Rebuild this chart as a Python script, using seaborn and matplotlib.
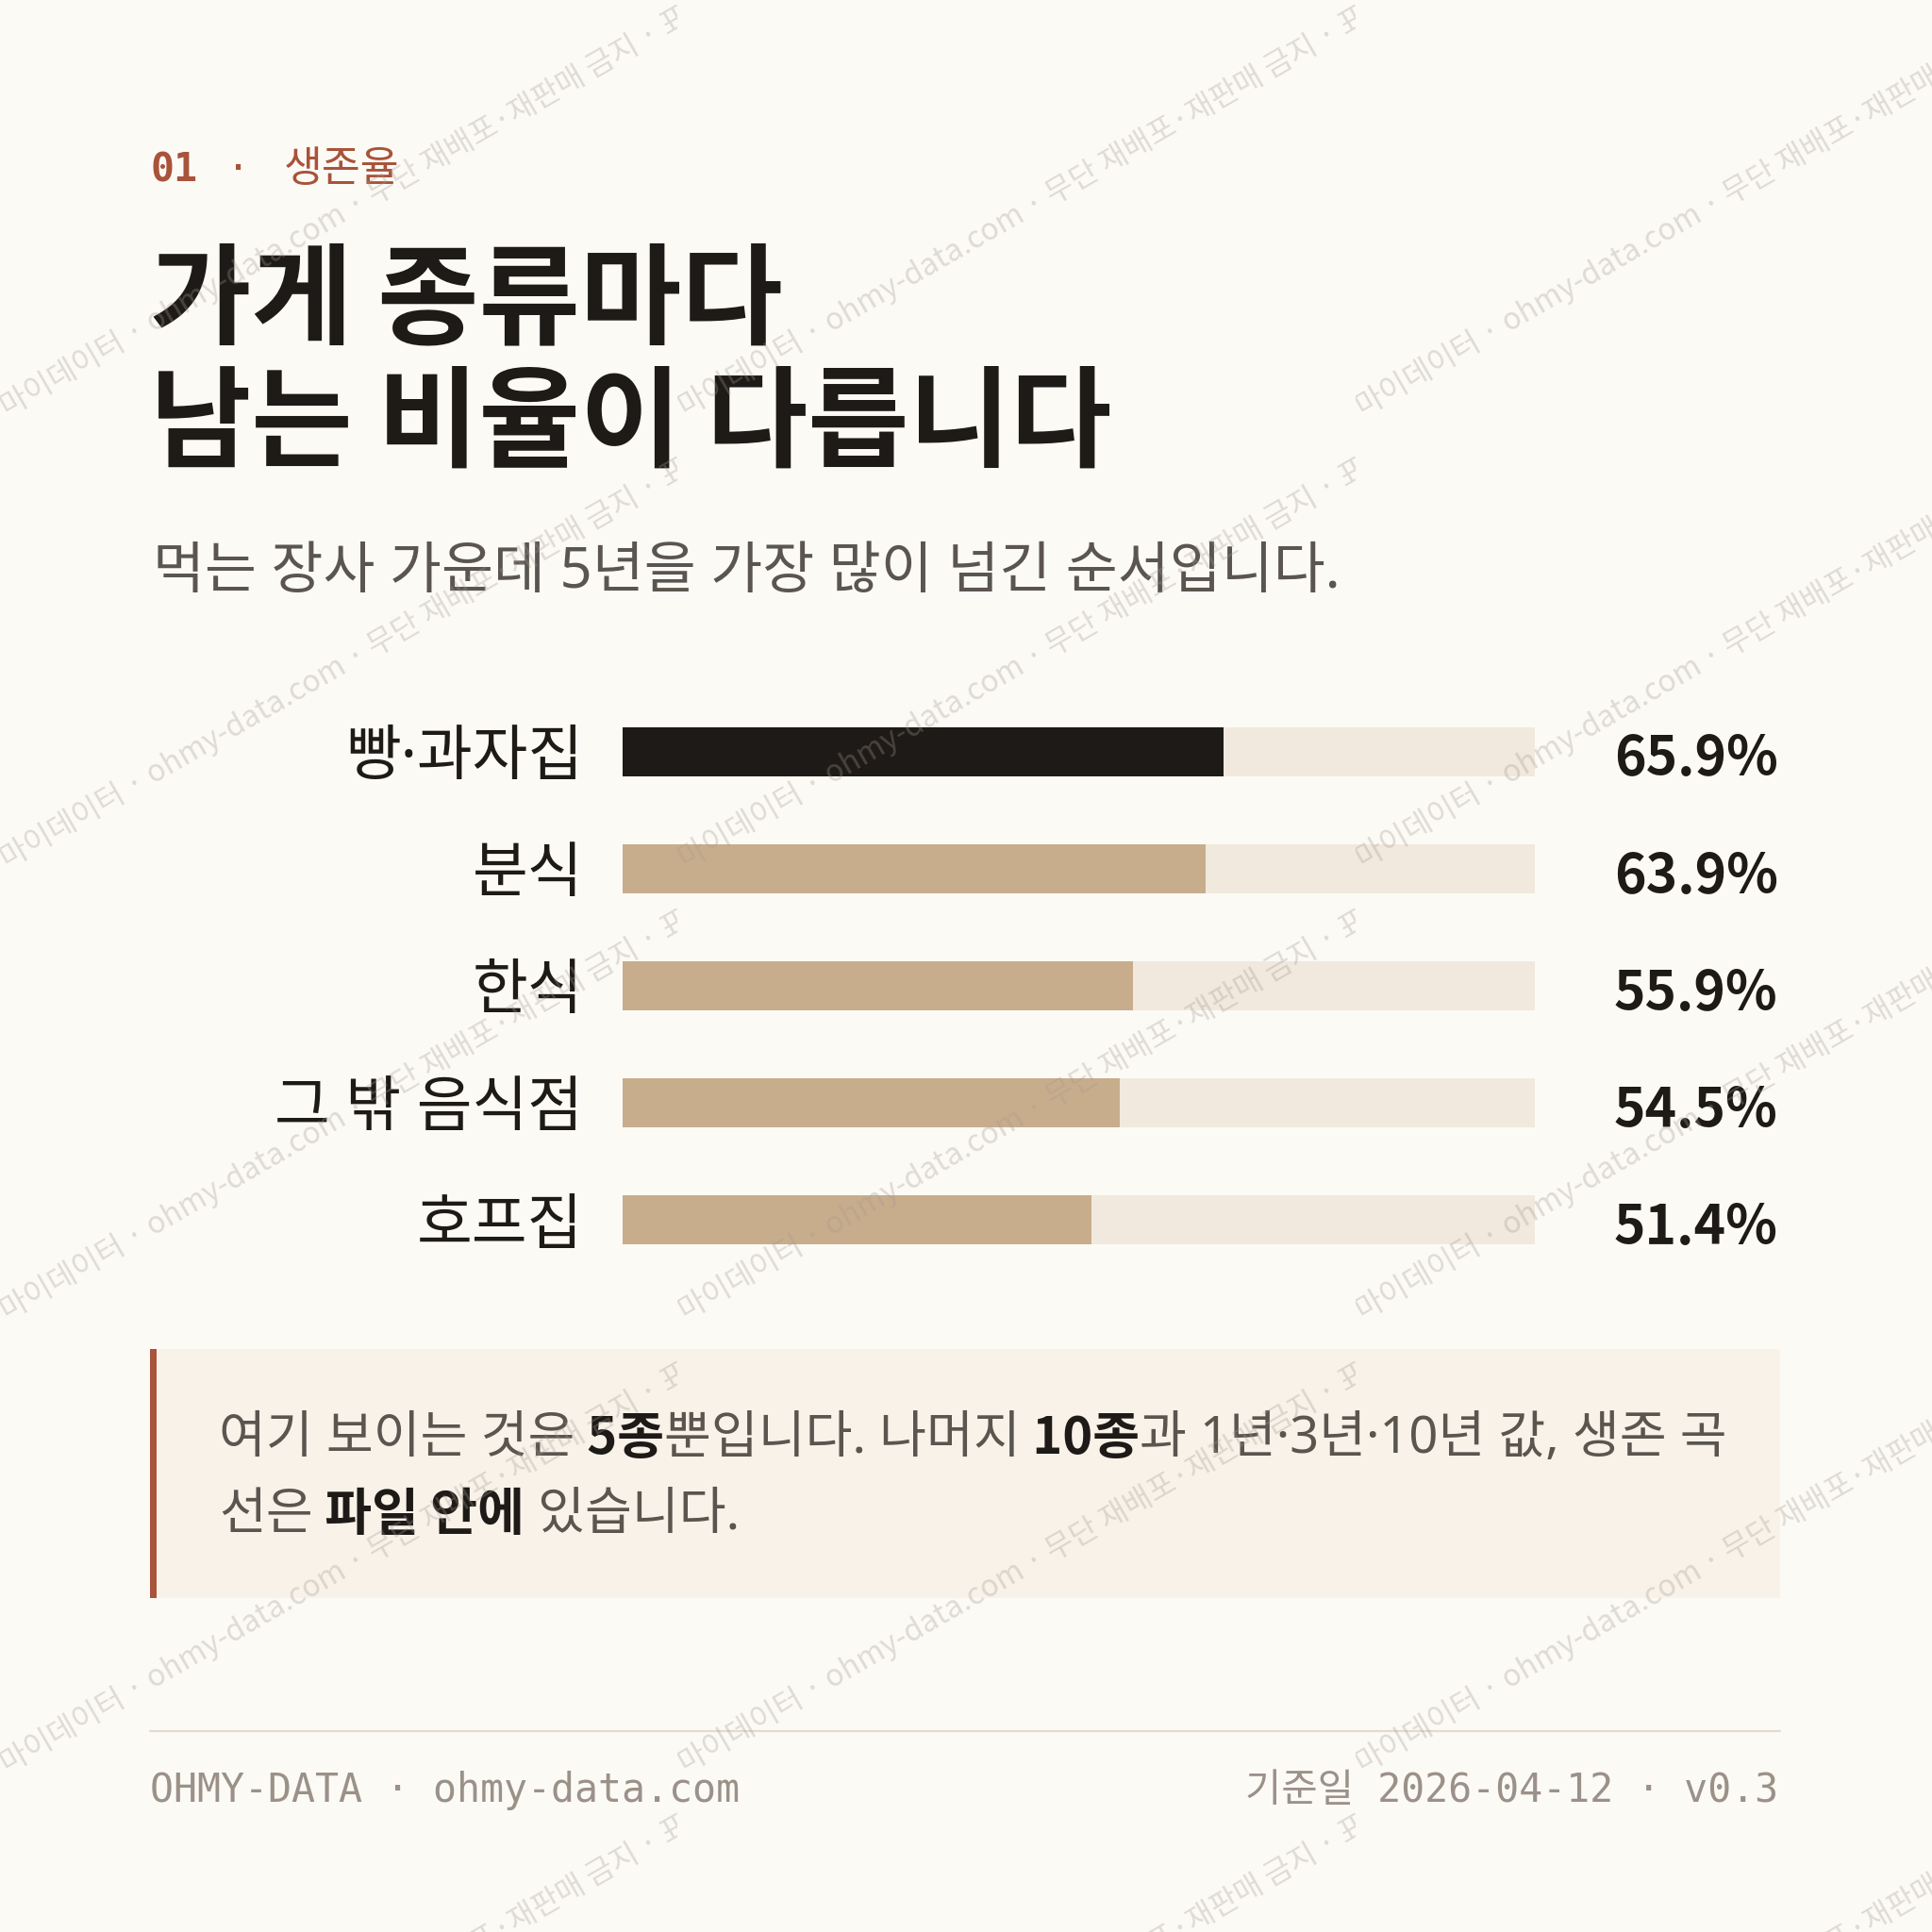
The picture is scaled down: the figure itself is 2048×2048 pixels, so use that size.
import matplotlib
matplotlib.use("Agg")
import matplotlib.pyplot as plt
import matplotlib.transforms as mtransforms
from matplotlib.patches import Rectangle
from matplotlib.lines import Line2D
import seaborn as sns
import pandas as pd

# ---------------- data ----------------
categories = ["빵·과자집", "분식", "한식", "그 밖 음식점", "호프집"]
survival_5y = [65.9, 63.9, 55.9, 54.5, 51.4]
value_labels = ["65.9%", "63.9%", "55.9%", "54.5%", "51.4%"]
scale_max = 100

eyebrow_num = "01"
eyebrow_txt = "생존율"
title_lines = ["가게 종류마다", "남는 비율이 다릅니다"]
subtitle = "먹는 장사 가운데 5년을 가장 많이 넘긴 순서입니다."
note_line1 = [("여기 보이는 것은", False), (" 5종", True), ("뿐입니다. 나머지", False),
              (" 10종", True), ("과 1년·3년·10년 값, 생존 곡", False)]
note_line2 = [("선은", False), (" 파일 안에", True), (" 있습니다.", False)]
footer_left = "OHMY-DATA · ohmy-data.com"
footer_right = "기준일 2026-04-12 · v0.3"
watermark = "마이데이터 · ohmy-data.com · 무단 재배포·재판매 금지 · 표본"

# ---------------- style ----------------
BG = "#fcfaf5"
DARK = "#1e1a17"
TAN = "#c8ad8c"
TRACK = "#f1e9dd"
RUST = "#a8533a"
GREY = "#5b554f"
FOOT = "#9b9188"
NOTE_BG = "#f8f2e9"
RULE = "#e3dbcf"

sns.set_theme(style="white")
KR = "Noto Sans CJK KR"
plt.rcParams["font.family"] = [KR, "DejaVu Sans"]
MONO = ["DejaVu Sans Mono", KR]
LATKR = ["Noto Sans", KR]

S = 1568.0
def fx(px):
    return px / S
def fy(py):
    return 1 - py / S

fig = plt.figure(figsize=(10.24, 10.24), dpi=200, facecolor=BG)

# ---------------- header ----------------
fig.text(fx(122), fy(138), eyebrow_num, family=MONO, weight="bold", size=15,
         color=RUST, ha="left", va="center")
fig.text(fx(193), fy(138), "·", family=MONO, size=15, color=RUST, ha="center", va="center")
fig.text(fx(230), fy(137), eyebrow_txt, family=[KR], size=16, color=RUST,
         ha="left", va="center")

fig.text(fx(122), fy(246), title_lines[0], size=42, weight="bold", color=DARK,
         ha="left", va="center")
fig.text(fx(122), fy(346), title_lines[1], size=42, weight="bold", color=DARK,
         ha="left", va="center")
fig.text(fx(124), fy(465), subtitle, size=21.5, family=LATKR, color=GREY,
         ha="left", va="center")

# ---------------- bars ----------------
df = pd.DataFrame({"category": categories, "value": survival_5y})
df["track"] = scale_max

ax = fig.add_axes([fx(505), fy(1037.5), fx(1246) - fx(505), (1037.5 - 562.5) / S])
ax.set_facecolor("none")
sns.barplot(data=df, x="track", y="category", color=TRACK, width=0.42,
            saturation=1, orient="h", ax=ax)
sns.barplot(data=df, x="value", y="category", hue="category",
            palette=[DARK] + [TAN] * (len(categories) - 1), width=0.42,
            saturation=1, orient="h", legend=False, ax=ax)
for p in ax.patches:
    p.set_linewidth(0)
ax.set_xlim(0, scale_max)
ax.set_ylim(len(categories) - 0.5, -0.5)
ax.set_xlabel("")
ax.set_ylabel("")
ax.set_xticks([])
for s in ax.spines.values():
    s.set_visible(False)
ax.tick_params(axis="y", length=0, pad=15, labelsize=23, labelcolor=DARK)
for t in ax.get_yticklabels():
    t.set_family(LATKR)

blend = mtransforms.blended_transform_factory(fig.transFigure, ax.transData)
for i, lab in enumerate(value_labels):
    ax.text(fx(1443), i + 0.07, lab, transform=blend, ha="right", va="center",
            size=20.5, weight="bold", color=DARK)

# ---------------- note box ----------------
fig.patches.append(Rectangle((fx(122), fy(1297)), fx(1445) - fx(122), (1297 - 1095) / S,
                             transform=fig.transFigure, facecolor=NOTE_BG, edgecolor="none",
                             zorder=1))
fig.patches.append(Rectangle((fx(122), fy(1297)), fx(5), (1297 - 1095) / S,
                             transform=fig.transFigure, facecolor=RUST, edgecolor="none",
                             zorder=2))

renderer = fig.canvas.get_renderer()

def draw_runs(x, y, runs, size):
    for txt, bold in runs:
        t = fig.text(x, y, txt, size=size, family=[KR] if bold else LATKR,
                     weight="bold" if bold else "normal",
                     color=DARK if bold else GREY, ha="left", va="center", zorder=3)
        bb = t.get_window_extent(renderer)
        x += bb.width / fig.bbox.width

draw_runs(fx(178), fy(1168), note_line1, 19.5)
draw_runs(fx(178), fy(1230), note_line2, 19.5)

# ---------------- footer ----------------
fig.lines.append(Line2D([fx(122), fx(1445)], [fy(1405), fy(1405)], transform=fig.transFigure,
                        color=RULE, linewidth=0.8))
fig.text(fx(122), fy(1453), footer_left, family=MONO, size=15, color=FOOT,
         ha="left", va="center")
fig.text(fx(1443), fy(1453), footer_right, family=MONO, size=15, color=FOOT,
         ha="right", va="center")

# ---------------- watermark ----------------
for col in range(-1, 4):
    for row in range(-1, 5):
        x0 = 550 * col
        y0 = 338 + 367 * row
        clip = Rectangle((fx(x0), 0), fx(550), 1, transform=fig.transFigure)
        t = fig.text(fx(x0 + 6), fy(y0), watermark, size=11.5, color="#a39a90",
                     alpha=0.32, rotation=30, rotation_mode="anchor",
                     ha="left", va="baseline", zorder=10)
        t.set_clip_path(clip)

fig.savefig("out.png", dpi=200, facecolor=BG)
